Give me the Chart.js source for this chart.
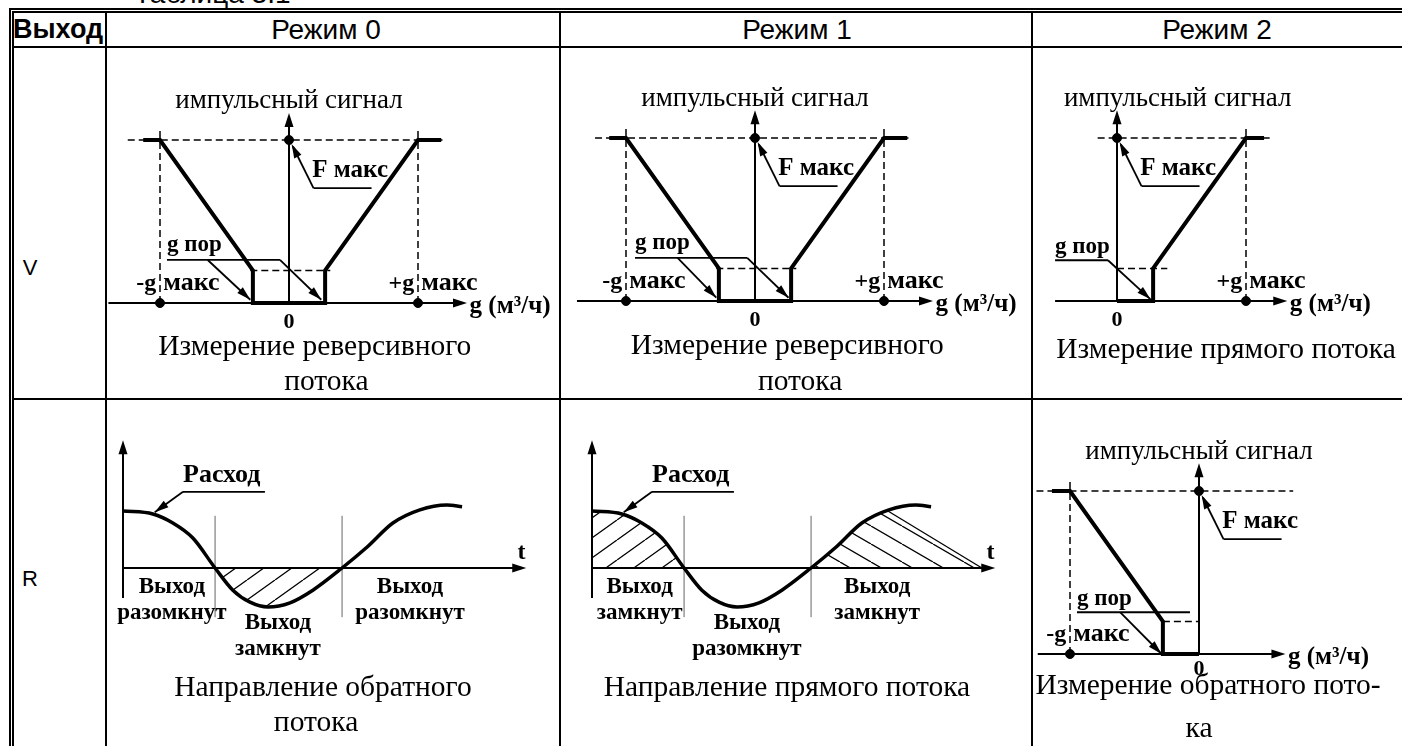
<!DOCTYPE html>
<html>
<head>
<meta charset="utf-8">
<script src="https://cdn.jsdelivr.net/npm/chart.js@4.4.0/dist/chart.umd.min.js"></script>
<style>
  body { margin: 0; width: 1402px; height: 746px; overflow: hidden; background: #fff; position: relative;
         font-family: "Liberation Sans", Arial, sans-serif; }
  .ln { position: absolute; background: #000; }
  .tx { position: absolute; white-space: nowrap; }
  canvas { position: absolute; }
</style>
</head>
<body>
<div class="tx" style="left:134px;top:-22px;font-size:28px;line-height:32px">Таблица 3.1</div>

<div class="ln" style="left:9px;top:8px;width:1393px;height:2px"></div>
<div class="ln" style="left:12px;top:11px;width:1390px;height:2px"></div>
<div class="ln" style="left:9px;top:8px;width:2px;height:738px"></div>
<div class="ln" style="left:12px;top:11px;width:2px;height:735px"></div>
<div class="ln" style="left:105px;top:11px;width:2px;height:735px"></div>
<div class="ln" style="left:559px;top:11px;width:2px;height:735px"></div>
<div class="ln" style="left:1031px;top:11px;width:2px;height:735px"></div>
<div class="ln" style="left:12px;top:46px;width:1390px;height:2px"></div>
<div class="ln" style="left:12px;top:398px;width:1390px;height:2px"></div>

<div class="tx" style="left:13px;top:13px;line-height:33px;font-size:27px;font-weight:bold">Выход</div>
<div class="tx" style="left:226px;top:13px;width:200px;text-align:center;line-height:33px;font-size:28px">Режим 0</div>
<div class="tx" style="left:697px;top:13px;width:200px;text-align:center;line-height:33px;font-size:28px">Режим 1</div>
<div class="tx" style="left:1117px;top:13px;width:200px;text-align:center;line-height:33px;font-size:28px">Режим 2</div>
<div class="tx" style="left:10px;top:252px;width:40px;text-align:center;line-height:32px;font-size:22px">V</div>
<div class="tx" style="left:10px;top:563px;width:40px;text-align:center;line-height:32px;font-size:22px">R</div>

<canvas id="v0"></canvas>
<canvas id="v1"></canvas>
<canvas id="v2"></canvas>
<canvas id="r0"></canvas>
<canvas id="r1"></canvas>
<canvas id="r2"></canvas>

<script>
// характеристики импульсного выхода: g в долях g макс, F в долях F макс
const gMax = 1, gPor = 0.28, fThr = 0.2;
const gRev = [-1.13, -1, -0.28, -0.28, 0.28, 0.28, 1, 1.18];   // режимы 0 и 1
const fRev = [1, 1, 0.2, 0, 0, 0.2, 1, 1];
const gFwd = [0, 0.28, 0.28, 1, 1.14];                         // режим 2, выход V
const fFwd = [0, 0, 0.2, 1, 1];
const gBack = [-1.14, -1, -0.28, -0.28, 0];                    // режим 2, выход R
const fBack = [1, 1, 0.2, 0, 0];

// кривая расхода для выхода R (t - условное время)
const tFlow = [0, 0.94, 1.57, 2.2, 2.9, 3.46, 4.0, 4.57, 5.26, 5.98, 6.9, 7.69, 8.5, 9.35, 10.2, 10.68];
const qFlow = [0.95, 0.9, 0.75, 0.5, 0, -0.37, -0.57, -0.65, -0.58, -0.37, 0, 0.35, 0.75, 0.97, 1.05, 1.02];
const tCross = [2.9, 6.9];

const SERIF = '"Liberation Serif", "Times New Roman", serif';
const B = px => 'bold ' + px + 'px ' + SERIF;
const F_SIG = '27px ' + SERIF;
const F_CAP = '29.5px ' + SERIF;

const P = (xs, ys) => xs.map((v, i) => ({ x: v, y: ys[i] }));
const seg = (x0, y0, x1, y1) => [{ x: x0, y: y0 }, { x: x1, y: y1 }];
function ln(data, w, more) {
  return Object.assign({ data, showLine: true, borderColor: '#000', backgroundColor: '#000',
    borderWidth: w, pointRadius: 0, tension: 0, fill: false }, more || {});
}
const DASH = { borderDash: [7, 4] };

function hatch(w, h, up) {
  const c = document.createElement('canvas');
  c.width = w; c.height = h;
  const g = c.getContext('2d');
  g.strokeStyle = '#000'; g.lineWidth = 1.3;
  g.beginPath();
  for (const dx of [-w, 0, w]) {
    if (up) { g.moveTo(dx, h); g.lineTo(dx + w, 0); }
    else { g.moveTo(dx, 0); g.lineTo(dx + w, h); }
  }
  g.stroke();
  return g.createPattern(c, 'repeat');
}

// стрелки и подписи поверх графика
function deco(spec) {
  return {
    id: 'deco',
    afterDatasetsDraw(chart) {
      const { ctx, scales: { x, y } } = chart;
      ctx.save();
      ctx.fillStyle = '#000';
      (spec.heads || []).forEach(h => {
        const x1 = x.getPixelForValue(h[0]), y1 = y.getPixelForValue(h[1]);
        const x2 = x.getPixelForValue(h[2]), y2 = y.getPixelForValue(h[3]);
        const a = Math.atan2(y2 - y1, x2 - x1), L = h[4] || 14, W = h[5] || 4.5;
        ctx.beginPath();
        ctx.moveTo(x2, y2);
        ctx.lineTo(x2 - L * Math.cos(a) + W * Math.sin(a), y2 - L * Math.sin(a) - W * Math.cos(a));
        ctx.lineTo(x2 - L * Math.cos(a) - W * Math.sin(a), y2 - L * Math.sin(a) + W * Math.cos(a));
        ctx.closePath();
        ctx.fill();
      });
      ctx.textBaseline = 'middle';
      (spec.texts || []).forEach(t => {
        ctx.font = t[3];
        ctx.textAlign = t[4] || 'center';
        ctx.fillText(t[0], x.getPixelForValue(t[1]), y.getPixelForValue(t[2]));
      });
      ctx.restore();
    }
  };
}

function makeChart(id, rect, origin, sx, sy, datasets, spec) {
  const cv = document.getElementById(id);
  cv.width = rect[2]; cv.height = rect[3];
  cv.style.left = rect[0] + 'px'; cv.style.top = rect[1] + 'px';
  return new Chart(cv, {
    type: 'scatter',
    data: { datasets },
    options: {
      responsive: false, animation: false, events: [],
      layout: { padding: 0, autoPadding: false },
      plugins: { legend: { display: false }, tooltip: { enabled: false } },
      scales: {
        x: { type: 'linear', display: false, min: (rect[0] - origin[0]) / sx, max: (rect[0] + rect[2] - origin[0]) / sx },
        y: { type: 'linear', display: false, min: (origin[1] - rect[1] - rect[3]) / sy, max: (origin[1] - rect[1]) / sy }
      }
    },
    plugins: [deco(spec)]
  });
}

// диаграмма "импульсный сигнал - расход"
function vDiagram(id, rect, origin, g, f, ext, marks, por, sigX, caption) {
  const ds = [
    ln(seg(ext.ax0, 0, ext.ax1 - 0.05, 0), 2),
    ln(seg(0, 0, 0, ext.ay1 - 0.05), 2),
    ln(seg(ext.top0, 1, ext.top1, 1), 1.5, DASH),
    ln(seg(ext.thr0, fThr, ext.thr1, fThr), 1.5, DASH)
  ];
  marks.forEach(m => ds.push(ln(seg(m * gMax, 0, m * gMax, 1.08), 1.5, DASH)));
  ds.push(ln(P(g, f), 4));
  ds.push({ data: marks.map(m => ({ x: m * gMax, y: 0 })).concat([{ x: 0, y: 1 }]),
    pointRadius: 4.5, pointBackgroundColor: '#000', pointBorderColor: '#000', showLine: false });
  // F макс
  ds.push(ln(seg(0.19, 0.705, 0.64, 0.705), 1.8));
  ds.push(ln(seg(0.19, 0.705, 0.03, 0.96), 1.8));
  // g пор
  ds.push(ln(seg(por.lead[0], por.lead[2], por.lead[1], por.lead[2]), 1.8));
  por.arrows.forEach(a => ds.push(ln(seg(a[0], a[1], a[2], a[3]), 1.8)));

  const heads = [
    [ext.ax0, 0, ext.ax1, 0],
    [0, 0, 0, ext.ay1],
    [0.19, 0.705, 0.02, 0.975, 14, 4]
  ].concat(por.arrows.map(a => a.concat([14, 4])));

  const texts = [
    ['импульсный сигнал', sigX, 1.24, F_SIG],
    ['F макс', 0.18, 0.815, B(25), 'left'],
    ['g пор', por.text[0], por.text[1], B(23), 'left'],
    ['g (м³/ч)', ext.ax1 + 0.02, -0.02, B(25), 'left'],
    ['0', 0, ext.zeroY || -0.12, B(22)]
  ];
  marks.forEach(m => {
    texts.push([m < 0 ? '-g' : '+g', m * gMax - 0.03, 0.12, B(24), 'right']);
    texts.push(['макс', m * gMax + 0.025, 0.12, B(26), 'left']);
  });
  caption.forEach(c => texts.push([c[0], c[1], c[2], F_CAP]));
  makeChart(id, rect, origin, 129, 163, ds, { heads, texts });
}

// диаграмма "расход - время"
function rDiagram(id, rect, origin, fills, labels, caption) {
  const ds = [
    ln(P(tFlow, qFlow), 3.5, { cubicInterpolationMode: 'monotone', fill: fills.curve || false }),
    ln(seg(0, 0, 12.5, 0), 2),
    ln(seg(0, -0.5, 0, 2.03), 2),
    ln(seg(1.89, 1.27, 4.47, 1.27), 1.8),
    ln(seg(1.89, 1.27, 1.0, 0.93), 1.8)
  ];
  tCross.forEach(t => ds.push(ln(seg(t, -0.82, t, 0.87), 1, { borderColor: '#666' })));
  (fills.extra || []).forEach(d => ds.push(d));
  const heads = [[0, 0, 12.7, 0], [0, 0, 0, 2.13], [1.89, 1.27, 1.0, 0.93, 14, 4]];
  const texts = [
    ['Расход', 1.89, 1.55, B(26), 'left'],
    ['t', 12.55, 0.25, B(24)]
  ];
  labels.forEach(l => {
    texts.push(['Выход', l[0], l[2], B(23)]);
    texts.push([l[1], l[0], l[2] - 0.43, B(23)]);
  });
  caption.forEach(c => texts.push([c[0], c[1], c[2], F_CAP]));
  makeChart(id, rect, origin, 31.75, 60, ds, { heads, texts });
}

const slash = hatch(28, 20, true);
const back = hatch(31, 18, false);

vDiagram('v0', [107, 48, 452, 350], [289, 303], gRev, fRev,
  { ax0: -1.4, ax1: 1.38, ay1: 1.166, top0: -1.25, top1: 1.19, thr0: -0.3, thr1: 0.32 }, [-1, 1],
  { text: [-0.946, 0.356], lead: [-0.946, -0.07, 0.264], arrows: [[-0.07, 0.264, 0.25, 0.02], [-0.63, 0.264, -0.3, 0.02]] },
  0, [['Измерение реверсивного', 0.2, -0.27], ['потока', 0.29, -0.485]]);

vDiagram('v1', [561, 48, 470, 350], [755, 301], gRev, fRev,
  { ax0: -1.38, ax1: 1.38, ay1: 1.17, top0: -1.24, top1: 1.19, thr0: -0.3, thr1: 0.32 }, [-1, 1],
  { text: [-0.93, 0.356], lead: [-0.93, -0.06, 0.264], arrows: [[-0.06, 0.264, 0.26, 0.02], [-0.6, 0.264, -0.3, 0.02]] },
  0, [['Измерение реверсивного', 0.25, -0.28], ['потока', 0.35, -0.497]]);

vDiagram('v2', [1033, 48, 369, 350], [1117, 301], gFwd, fFwd,
  { ax0: -0.48, ax1: 1.32, ay1: 1.17, top0: -0.15, top1: 1.2, thr0: 0, thr1: 0.39 }, [1],
  { text: [-0.48, 0.33], lead: [-0.48, -0.07, 0.25], arrows: [[-0.07, 0.25, 0.26, 0.01]] },
  0.47, [['Измерение прямого потока', 0.845, -0.3]]);

vDiagram('r2', [1033, 400, 369, 346], [1199, 654], gBack, fBack,
  { ax0: -1.25, ax1: 0.67, ay1: 1.17, top0: -1.26, top1: 0.73, thr0: -0.28, thr1: 0, zeroY: -0.095 }, [-1],
  { text: [-0.946, 0.34], lead: [-0.946, -0.07, 0.256], arrows: [[-0.61, 0.256, -0.29, 0.0]] },
  0, [['Измерение обратного пото-', 0.07, -0.2], ['ка', 0, -0.46]]);

rDiagram('r0', [107, 400, 452, 346], [123, 568],
  { curve: { target: 'origin', above: 'rgba(0,0,0,0)', below: slash } },
  [[1.54, 'разомкнут', -0.32], [4.88, 'замкнут', -0.92], [9.04, 'разомкнут', -0.32]],
  [['Направление обратного', 6.3, -2.0], ['потока', 6.08, -2.58]]);

rDiagram('r1', [561, 400, 470, 346], [592, 568],
  { extra: [
      ln(P([0, 0.94, 1.57, 2.2, 2.9], [0.95, 0.9, 0.75, 0.5, 0]), 0, { fill: 'origin', backgroundColor: slash }),
      ln(P([6.9, 7.69, 8.5, 9.32, 12.28], [0, 0.35, 0.75, 0.95, 0]), 0, { fill: 'origin', backgroundColor: back }),
      ln(seg(9.32, 0.95, 12.28, 0), 1.3)
  ] },
  [[1.5, 'замкнут', -0.32], [4.88, 'разомкнут', -0.92], [8.98, 'замкнут', -0.32]],
  [['Направление прямого потока', 6.14, -2.0]]);
</script>
</body>
</html>
